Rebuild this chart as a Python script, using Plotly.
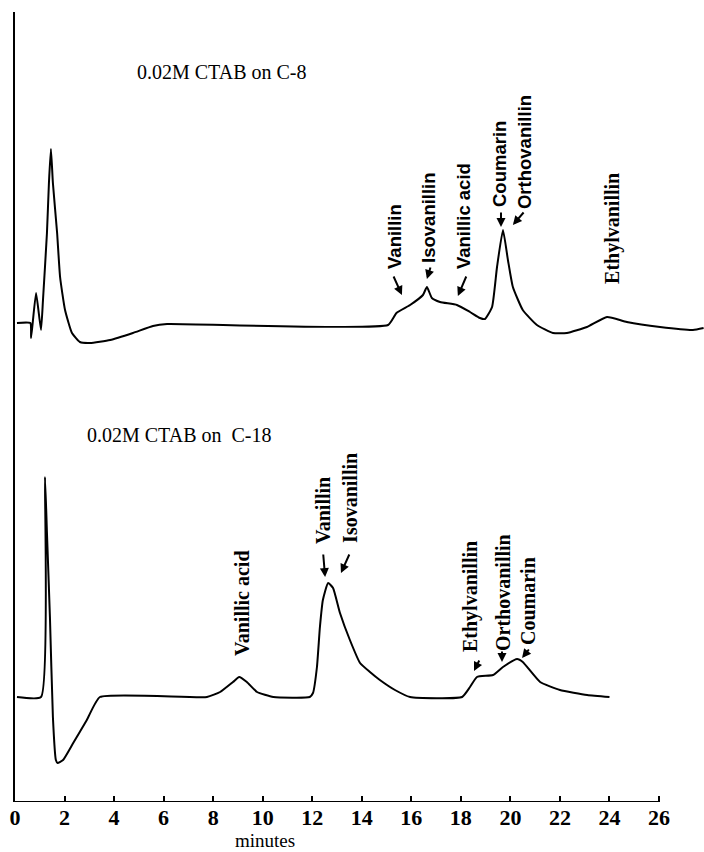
import plotly.graph_objects as go

# Retention time (min) and detector response (arbitrary units, baseline = 0)
# 0.02M CTAB on C-8 column
c8_time = [0.08, 0.62, 0.65, 0.85, 1.05, 1.13, 1.29, 1.37, 1.45, 1.53, 1.70, 1.82,
           2.02, 2.30, 2.62, 3.03, 3.84, 4.76, 5.57, 6.14, 15.06, 15.40, 15.95,
           16.47, 16.63, 16.83, 17.16, 17.84, 18.37, 18.77, 18.97, 19.26, 19.46,
           19.70, 19.90, 20.10, 20.50, 21.07, 21.72, 22.28, 23.09, 23.90, 24.70,
           26.04, 27.37, 27.80]
c8_signal = [1, 1, -14, 31, -6, 24, 91, 141, 175, 141, 91, 47,
             14, -9, -18, -19, -16, -9, -2, 0, -1, 11, 19,
             29, 37, 26, 22, 19, 12, 6, 5, 17, 57,
             94, 64, 37, 14, -1, -9, -9, -3, 7, 2,
             -3, -6, -4]

# 0.02M CTAB on C-18 column
c18_time = [0.08, 1.05, 1.21, 1.29, 1.41, 1.53, 1.65, 1.72, 1.94, 2.35, 2.90, 3.43,
            7.75, 8.28, 8.80, 9.05, 9.36, 9.77, 10.43, 11.90, 12.03, 12.19, 12.31,
            12.43, 12.64, 12.84, 13.12, 13.52, 13.93, 14.33, 14.73, 15.34, 15.95,
            18.05, 18.37, 18.65, 19.30, 19.70, 20.27, 20.50, 21.20, 22.00, 23.10,
            24.00]
c18_signal = [0, 0, 220, 164, 80, -20, -63, -66, -63, -46, -23, 0,
              0, 5, 15, 20, 15, 5, 0, 0, 4, 30, 70,
              97, 114, 109, 84, 57, 34, 25, 17, 7, 0,
              0, 10, 20, 22, 30, 38, 35, 15, 7, 2,
              0]

# vertical offsets used to stack the two chromatograms
c8_offset = 478
c18_offset = 105

x_ticks = list(range(0, 27, 2))

# peak labels: (text, x, y, font family)
c8_labels = [
    ("Vanillin", 15.30, 566, "sans"),
    ("Isovanillin", 16.67, 584, "sans"),
    ("Vanillic acid", 18.09, 586, "sans"),
    ("Coumarin", 19.54, 638, "sans"),
    ("Orthovanillin", 20.55, 650, "sans"),
    ("Ethylvanillin", 24.10, 574, "serif"),
]
c18_labels = [
    ("Vanillic acid", 9.16, 199, "serif"),
    ("Vanillin", 12.43, 292, "serif"),
    ("Isovanillin", 13.52, 304, "serif"),
    ("Ethylvanillin", 18.37, 205, "serif"),
    ("Orthovanillin", 19.70, 210, "serif"),
    ("Coumarin", 20.71, 201, "serif"),
]
# pointer arrows: (head x, head y, tail dx px, tail dy px)
arrows = [
    (15.62, 507, -9, -20), (16.63, 523, 4, -13), (17.88, 506, 9, -21),
    (19.62, 575, 0, -16), (20.10, 577, 12, -14),
    (12.52, 225, -2, -24), (13.16, 229, 9, -20), (18.53, 131, 6, -12),
    (19.66, 140, 0, -12), (20.47, 144, 8, -10),
]

SERIF = "Liberation Serif, Times New Roman, serif"
SANS = "Liberation Sans, Arial, sans-serif"

fig = go.Figure()
for t, s, off in [(c8_time, c8_signal, c8_offset), (c18_time, c18_signal, c18_offset)]:
    fig.add_trace(go.Scatter(
        x=t, y=[v + off for v in s], mode="lines",
        line=dict(color="black", width=2, shape="spline", smoothing=0.45),
        hoverinfo="skip", showlegend=False,
    ))

annotations = []
for text, x, y, fam in c8_labels + c18_labels:
    annotations.append(dict(
        x=x, y=y, text="<b>%s</b>" % text, textangle=-90, showarrow=False,
        xanchor="center", yanchor="middle",
        font=dict(family=SANS if fam == "sans" else SERIF,
                  size=18.5 if fam == "sans" else 20, color="black"),
    ))
for hx, hy, dx, dy in arrows:
    annotations.append(dict(
        x=hx, y=hy, ax=dx, ay=dy, text="", showarrow=True,
        arrowhead=2, arrowsize=0.9, arrowwidth=2, arrowcolor="black",
    ))
annotations += [
    dict(x=4.84, y=730, text="0.02M CTAB on C-8", showarrow=False,
         xanchor="left", yanchor="middle", font=dict(family=SERIF, size=20, color="black")),
    dict(x=2.83, y=367, text="0.02M CTAB on  C-18", showarrow=False,
         xanchor="left", yanchor="middle", font=dict(family=SERIF, size=20, color="black")),
    dict(x=10.1, y=0, yshift=-38, text="minutes", showarrow=False,
         xanchor="center", yanchor="middle", font=dict(family=SERIF, size=19, color="black")),
]

fig.update_layout(
    width=704, height=852,
    margin=dict(l=15, r=0, t=12, b=50),
    paper_bgcolor="white", plot_bgcolor="white",
    annotations=annotations,
    shapes=[dict(type="line", xref="x", yref="y", x0=0, x1=26, y0=0, y1=0,
                 line=dict(color="black", width=2))],
    xaxis=dict(
        range=[0, 27.816], tickvals=x_ticks,
        ticktext=["<b>%d</b>" % v for v in x_ticks],
        ticks="inside", ticklen=6, tickwidth=1.5, tickcolor="black",
        showline=False, showgrid=False, zeroline=False,
        tickfont=dict(family=SERIF, size=22, color="black"),
    ),
    yaxis=dict(
        range=[0, 790], showticklabels=False, ticks="",
        showline=True, linecolor="black", linewidth=2,
        showgrid=False, zeroline=False,
    ),
)

fig.write_html("out.html")
